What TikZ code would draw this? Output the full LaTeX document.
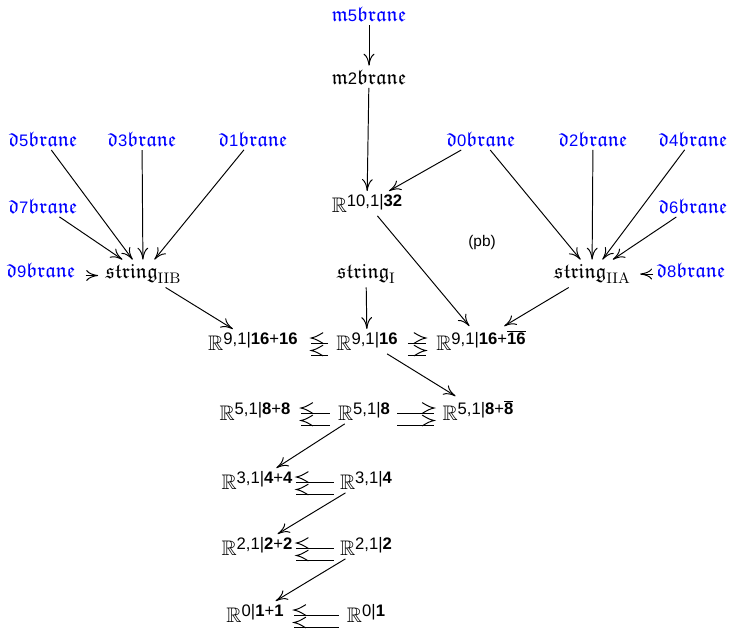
\documentclass[tikz,border=0pt]{standalone}
\usepackage{amsmath,amssymb}
\usepackage{fontspec}
\setsansfont{Liberation Sans}
\usetikzlibrary{arrows.meta,calc}
% small sans-serif text used for digits and superscripts
\newcommand{\sm}[1]{{\fontsize{9.5}{11}\selectfont\sffamily #1}}
% super-Minkowski spaces: blackboard R with a raised sans-serif label
\newcommand{\Rs}[1]{$\mathbb{R}$\raisebox{2.9pt}{\sm{#1}}}
\newcommand{\bd}[1]{\textbf{#1}}
% brane names: fraktur letters around a sans digit
\newcommand{\fk}[2]{$\mathfrak{#1}$\sm{#2}$\mathfrak{brane}$}
% fraktur "string" with a roman subscript
\newcommand{\str}[1]{$\mathfrak{string}$\raisebox{-3.2pt}{\fontsize{8.7}{10}\selectfont #1}}
% a pair of parallel horizontal arrows:
% tail anchor, tip anchor, tail x-offset, tip x-offset,
% side of the tip the head opens to (1 = arrow points left, -1 = right);
% each head sits a little above its shaft
\newcommand{\hpair}[5]{%
  \foreach \hy/\sy in {-12/-7,0.5/5.5}{
    \draw[shaft] ($(#1)+(#3,\sy)$) -- ($(#2)+(#4,\sy)$);
    \coordinate (tp) at ($(#2)+(#4,\hy)$);
    \draw[shaft] ($(tp)+({12*(#5)},-5.4)$) .. controls ($(tp)+({5*(#5)},-1.3)$) .. (tp)
                 .. controls ($(tp)+({5*(#5)},1.3)$) .. ($(tp)+({12*(#5)},5.4)$);
  }}
\begin{document}
\begin{tikzpicture}[x=0.57pt,y=-0.57pt,
  every node/.style={inner sep=2pt, anchor=base, font=\fontsize{12}{14}\selectfont},
  shaft/.style={line width=0.55pt},
  ar/.style={-{Computer Modern Rightarrow[length=6.8pt,width=6.2pt]}, line width=0.55pt},
  br/.style={text=blue}]
\useasboundingbox (0,0) rectangle (733,629);

% M-theory branes
\node[br] (m5) at (369,21) {\fk{m}{5}};
\node (m2) at (369,84) {\fk{m}{2}};
\node (r10) at (367,212) {\Rs{10,1|\bd{32}}};

% D-branes
\node[br] (d5) at (43,146) {\fk{d}{5}};
\node[br] (d3) at (142,146) {\fk{d}{3}};
\node[br] (d1) at (253,146) {\fk{d}{1}};
\node[br] (d7) at (43,213) {\fk{d}{7}};
\node[br] (d9) at (41,277) {\fk{d}{9}};
\node[br] (d0) at (481,146) {\fk{d}{0}};
\node[br] (d2) at (593,146) {\fk{d}{2}};
\node[br] (d4) at (693,146) {\fk{d}{4}};
\node[br] (d6) at (693,213) {\fk{d}{6}};
\node[br] (d8) at (691,277) {\fk{d}{8}};

% strings
\node (sIIB) at (143,278) {\str{IIB}};
\node (sI) at (366,278) {\str{I}};
\node (sIIA) at (592,278) {\str{IIA}};
\node (pb) at (482,246) {\fontsize{8.8}{10}\selectfont\sffamily (pb)};

% super-Minkowski tower
\node (a1) at (253,350) {\Rs{9,1|\bd{16}+\bd{16}}};
\node (a2) at (367,350) {\Rs{9,1|\bd{16}}};
\node (a3) at (481,350) {\Rs{9,1|\bd{16}+$\overline{\hbox{\bfseries 16}}$}};
\node (b1) at (255,420) {\Rs{5,1|\bd{8}+\bd{8}}};
\node (b2) at (364,420) {\Rs{5,1|\bd{8}}};
\node (b3) at (478,420) {\Rs{5,1|\bd{8}+$\overline{\hbox{\bfseries 8}}$}};
\node (c1) at (257,489) {\Rs{3,1|\bd{4}+\bd{4}}};
\node (c2) at (366,489) {\Rs{3,1|\bd{4}}};
\node (e1) at (257,555) {\Rs{2,1|\bd{2}+\bd{2}}};
\node (e2) at (366,555) {\Rs{2,1|\bd{2}}};
\node (f1) at (255,622) {\Rs{0|\bd{1}+\bd{1}}};
\node (f2) at (366,622) {\Rs{0|\bd{1}}};

% arrows in the upper part
\draw[ar] (m5) -- (m2);
\draw[ar] (m2) -- (r10);
\draw[ar] (d0) -- (r10);
\foreach \s in {d0,d2,d4,d6} \draw[ar] (\s) -- (sIIA);
\foreach \s in {d5,d3,d1,d7} \draw[ar] (\s) -- (sIIB);
\draw[ar] ($(sIIB.base west)+(-16,-2.5)$) -- ($(sIIB.base west)+(-3.5,-2.5)$);
\draw[ar] ($(sIIA.base east)+(19.5,-4)$) -- ($(sIIA.base east)+(6.5,-4)$);
\draw[ar] (sIIB) -- (a1);
\draw[ar] (sI) -- (a2);
\draw[ar] (r10) -- (a3);
\draw[ar] (sIIA) -- (a3);

% parallel arrows along the rows
\hpair{a2.base west}{a1.base east}{-4.5}{9.5}{1}
\hpair{a2.base east}{a3.base west}{6.5}{-6.5}{-1}
\hpair{b2.base west}{b1.base east}{-4.5}{6.5}{1}
\hpair{b2.base east}{b3.base west}{3.5}{-4.5}{-1}
\hpair{c2.base west}{c1.base east}{-2.5}{0}{1}
\hpair{e2.base west}{e1.base east}{-2.5}{0}{1}
\hpair{f2.base west}{f1.base east}{-4.5}{6.5}{1}

% diagonal arrows down the tower
\draw[ar] (a2) -- (b3);
\draw[ar] (b2) -- (c1);
\draw[ar] (c2) -- (e1);
\draw[ar] (e2) -- (f1);
\end{tikzpicture}
\end{document}
